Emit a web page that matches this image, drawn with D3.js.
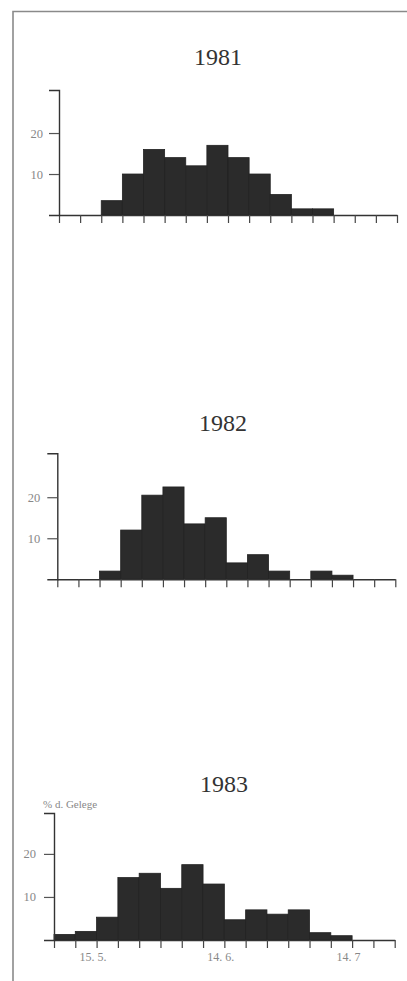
<!DOCTYPE html>
<html><head><meta charset="utf-8">
<script src="https://cdn.jsdelivr.net/npm/d3@7"></script>
<style>body{margin:0;background:#fff}svg{display:block}</style>
</head><body>
<svg id="c" width="407" height="981"></svg>
<script>
const years = ["1981", "1982", "1983"];
const values1981 = [0, 0, 3.5, 10, 16, 14, 12, 17, 14, 10, 5, 1.5, 1.5, 0, 0, 0];
const values1982 = [0, 0, 2, 12, 20.5, 22.5, 13.5, 15, 4, 6, 2, 0, 2, 1, 0, 0];
const values1983 = [1.3, 2, 5.3, 14.5, 15.5, 12, 17.5, 13, 4.7, 7, 6, 7, 1.7, 1, 0, 0];
const yTickValues = [10, 20];
const xTickLabels = ["15. 5.", "14. 6.", "14. 7"];
const xTickLabelIdx = [2, 8, 14];
const yLabel = "% d. Gelege";

const seriesByYear = [values1981, values1982, values1983];
const layout = [
  {left: 59, right: 397, base: 215, top: 90, yMax: 30.5, titleX: 218, titleY: 65, pad: 6},
  {left: 57.3, right: 395.3, base: 579.3, top: 453.3, yMax: 30.7, titleX: 223, titleY: 431, pad: 7},
  {left: 54, right: 394.7, base: 940, top: 813, yMax: 29.5, titleX: 224, titleY: 792, pad: 8, showLabels: true}
];

const svg = d3.select("#c");
const font = "'Liberation Serif', 'Times New Roman', serif";

// frame
svg.append("path").attr("d", "M13,981 V11.5 H407")
  .attr("fill", "none").attr("stroke", "#8a8a8a").attr("stroke-width", 1.6);

years.forEach((yr, k) => {
  const L = layout[k];
  const vals = seriesByYear[k];
  const n = vals.length;
  const x = d3.scaleLinear().domain([0, n]).range([L.left, L.right]);
  const y = d3.scaleLinear().domain([0, L.yMax]).range([L.base, L.top]);
  const g = svg.append("g");

  // title
  g.append("text").attr("x", L.titleX).attr("y", L.titleY)
    .attr("text-anchor", "middle").attr("font-family", font)
    .attr("font-size", 24).attr("fill", "#333").text(yr);

  // bars
  g.append("g").selectAll("rect")
    .data(vals.map((v, i) => ({v, i})).filter(d => d.v > 0))
    .join("rect")
    .attr("x", d => x(d.i))
    .attr("width", d => x(d.i + 1) - x(d.i))
    .attr("y", d => y(d.v))
    .attr("height", d => L.base - y(d.v))
    .attr("fill", "#2b2b2b")
    .attr("stroke", "#222").attr("stroke-width", 0.8);

  // x axis
  const xa = d3.axisBottom(x).tickValues(d3.range(n + 1)).tickSize(8).tickSizeOuter(0)
    .tickFormat((d) => {
      if (!L.showLabels) return "";
      const j = xTickLabelIdx.indexOf(d);
      return j >= 0 ? xTickLabels[j] : "";
    });
  const gx = g.append("g").attr("transform", `translate(0,${L.base})`).call(xa);
  gx.select(".domain").attr("stroke", "#333").attr("stroke-width", 1.4);
  gx.selectAll(".tick line").attr("stroke", "#444").attr("stroke-width", 1.2);
  gx.selectAll(".tick text").attr("font-family", font).attr("font-size", 12)
    .attr("fill", "#888").attr("dx", -4).attr("dy", "0.85em");

  // y axis
  const ya = d3.axisLeft(y).tickValues(yTickValues).tickSize(10).tickSizeOuter(10).tickPadding(L.pad);
  const gy = g.append("g").attr("transform", `translate(${L.left},0)`).call(ya);
  gy.select(".domain").attr("stroke", "#333").attr("stroke-width", 1.4);
  gy.selectAll(".tick line").attr("stroke", "#555").attr("stroke-width", 1.2);
  gy.selectAll(".tick text").attr("font-family", font).attr("font-size", 12.5).attr("fill", "#888");

  if (L.showLabels) {
    g.append("text").attr("x", 43).attr("y", L.top - 5)
      .attr("font-family", font).attr("font-size", 11).attr("fill", "#888").text(yLabel);
  }
});
</script>
</body></html>
